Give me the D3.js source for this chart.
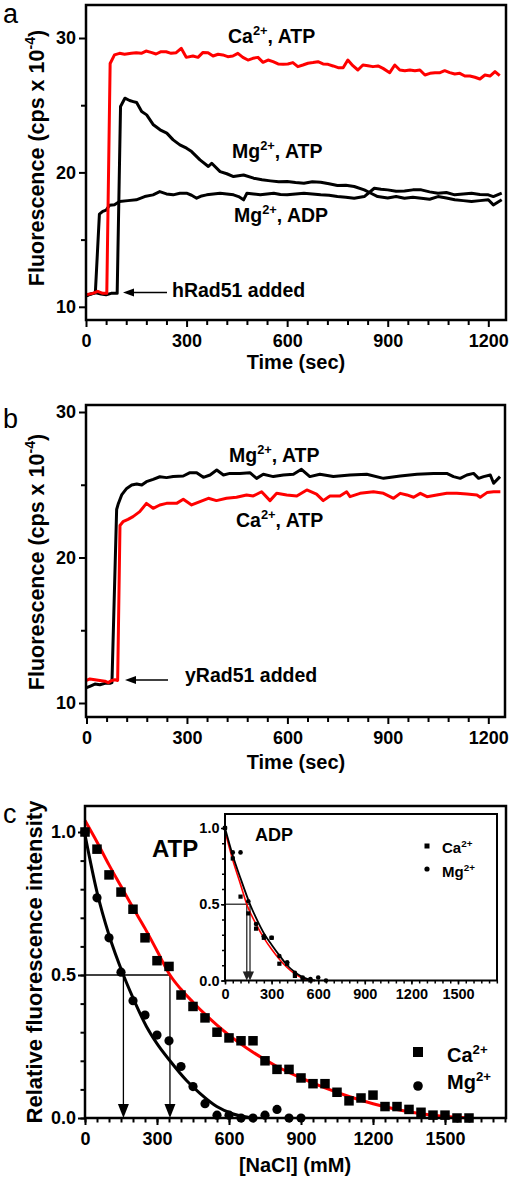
<!DOCTYPE html>
<html><head><meta charset="utf-8">
<script src="https://cdn.jsdelivr.net/npm/d3@7"></script>
<style>body{margin:0;background:#fff}svg{display:block}</style>
</head><body>
<svg id="fig" width="517" height="1181"></svg>
<script>
// ---------------- DATA ----------------
// Panel a (hRad51): [time sec, fluorescence cps x 10^-4]
const aCaATP = [[0,10.9],[20,11.0],[35,11.15],[50,11.0],[62,11.0],[72,28.1],[85,28.74],[100,28.86],[115,28.79],[135,28.86],[150,28.91],[165,28.86],[179,29.03],[194,28.93],[209,28.81],[224,28.98],[239,28.98],[254,28.86],[269,28.91],[284,29.23],[299,28.56],[319,28.66],[334,28.56],[349,28.93],[364,28.91],[379,28.66],[394,28.79],[408,28.74],[423,28.61],[438,28.66],[453,28.86],[468,28.56],[483,28.36],[498,28.49],[513,28.56],[528,28.19],[543,28.36],[558,28.24],[573,28.07],[588,28.04],[602,28.07],[617,28.17],[632,27.87],[647,27.99],[662,28.12],[677,28.17],[692,28.24],[707,28.07],[722,28.04],[737,27.92],[752,27.79],[767,27.79],[781,28.36],[796,27.94],[811,27.62],[826,27.99],[841,27.94],[856,27.87],[871,27.92],[886,27.74],[906,27.42],[921,27.99],[936,27.62],[951,27.57],[966,27.62],[981,27.57],[996,27.62],[1011,27.25],[1026,27.37],[1041,27.42],[1056,27.42],[1070,27.57],[1085,27.42],[1100,27.32],[1115,27.37],[1130,27.17],[1145,27.17],[1160,27.08],[1175,26.95],[1190,27.25],[1205,27.17],[1220,27.5],[1234,27.2]];
const aMgATP = [[0,10.85],[15,10.95],[30,11.05],[45,10.95],[60,10.9],[75,11.0],[93,11.0],[103,24.9],[116,25.52],[130,25.35],[141,25.27],[151,25.2],[166,24.53],[181,24.28],[201,23.54],[221,23.17],[241,22.92],[260,22.42],[280,22.05],[300,21.8],[315,21.55],[340,20.93],[365,20.44],[375,20.68],[400,20.06],[420,19.9],[440,19.69],[470,19.81],[500,19.57],[525,19.45],[550,19.37],[575,19.3],[600,19.32],[625,19.25],[650,19.2],[675,19.3],[700,19.27],[725,19.15],[750,19.02],[775,19.05],[800,18.95],[830,18.7],[850,18.45],[870,18.2],[900,18.1],[925,18.2],[950,18.08],[975,18.15],[1000,18.08],[1025,18.0],[1050,18.2],[1075,18.1],[1100,17.96],[1125,17.9],[1150,17.83],[1175,17.9],[1200,17.96],[1215,17.58],[1240,17.96]];
const aMgADP = [[0,10.8],[10,10.9],[20,11.0],[28,11.1],[40,16.9],[50,17.1],[60,17.2],[70,17.55],[85,17.6],[100,17.83],[125,17.9],[150,17.96],[175,18.2],[200,18.33],[220,18.57],[240,18.4],[260,18.33],[280,18.45],[300,18.45],[315,18.3],[330,18.08],[345,18.25],[360,18.33],[380,18.4],[400,18.45],[420,18.4],[440,18.33],[455,18.2],[470,17.96],[480,18.45],[500,18.4],[520,18.33],[540,18.4],[560,18.45],[580,18.35],[600,18.33],[625,18.4],[650,18.45],[675,18.4],[700,18.33],[725,18.3],[750,18.2],[775,18.15],[800,18.08],[830,18.2],[860,18.82],[880,18.75],[900,18.7],[925,18.6],[950,18.62],[975,18.7],[1000,18.7],[1025,18.55],[1050,18.45],[1075,18.5],[1100,18.33],[1125,18.4],[1150,18.45],[1175,18.35],[1200,18.33],[1215,18.2],[1240,18.45]];

// Panel b (yRad51)
const bMgATP = [[0,11.05],[10,11.15],[25,11.3],[40,11.25],[55,11.35],[70,11.35],[76,11.4],[90,23.3],[95,23.7],[105,24.3],[120,24.75],[135,24.98],[150,25.05],[165,24.98],[179,25.21],[199,25.37],[219,25.55],[239,25.49],[259,25.56],[289,25.6],[309,25.83],[329,25.83],[349,25.51],[369,25.67],[389,26.01],[409,25.67],[428,25.78],[458,25.78],[488,25.83],[508,25.44],[528,25.72],[558,25.56],[588,25.67],[618,25.72],[642,26.06],[667,25.56],[697,25.72],[737,25.56],[787,25.67],[837,25.72],[887,25.44],[937,25.6],[987,25.72],[1036,25.78],[1076,25.78],[1096,25.56],[1116,25.44],[1136,25.67],[1156,25.78],[1171,25.44],[1186,25.56],[1206,25.67],[1216,25.1],[1235,25.56]];
const bCaATP = [[0,11.55],[10,11.65],[25,11.6],[40,11.55],[55,11.5],[65,11.4],[75,11.55],[85,11.6],[93,11.55],[100,22.2],[109,22.46],[124,22.62],[139,22.81],[159,23.15],[179,23.72],[199,23.38],[219,23.61],[239,23.72],[269,23.72],[289,24.0],[314,23.61],[339,23.84],[364,24.07],[388,23.91],[418,24.07],[448,24.14],[478,24.3],[498,24.23],[523,24.52],[548,23.91],[568,24.41],[598,24.3],[628,24.23],[658,24.64],[687,24.36],[707,23.91],[727,24.23],[757,24.23],[777,24.52],[787,24.18],[817,24.41],[857,24.52],[887,24.41],[917,24.07],[937,24.41],[957,24.3],[977,24.14],[997,24.41],[1017,24.18],[1046,24.3],[1076,24.41],[1106,24.41],[1136,24.36],[1166,24.3],[1176,24.14],[1196,24.46],[1216,24.52],[1236,24.52]];

// Panel c, ATP: [NaCl mM], relative fluorescence
const cCaNaCl = [0,50,100,150,200,250,300,350,400,450,500,550,600,650,700,750,800,850,900,950,1000,1050,1100,1150,1200,1250,1300,1350,1400,1450,1500,1550,1600];
const cCaRel  = [1.0,0.94,0.85,0.79,0.73,0.63,0.55,0.53,0.43,0.39,0.35,0.30,0.28,0.27,0.27,0.20,0.17,0.17,0.14,0.12,0.12,0.09,0.06,0.07,0.08,0.04,0.04,0.03,0.02,0.01,0.01,0.0,0.0];
const cMgNaCl = [0,50,100,150,200,250,300,350,400,450,500,550,600,650,700,750,800,850,900];
const cMgRel  = [1.0,0.77,0.63,0.51,0.41,0.36,0.29,0.27,0.18,0.11,0.05,0.01,0.01,0.0,0.0,0.01,0.03,0.0,0.0];
const cCaFit = [[0,1.04],[50,0.965],[100,0.885],[150,0.81],[200,0.735],[250,0.663],[300,0.585],[354,0.5],[400,0.45],[450,0.405],[500,0.363],[550,0.325],[600,0.29],[700,0.23],[800,0.18],[900,0.14],[1000,0.105],[1100,0.075],[1200,0.05],[1300,0.03],[1400,0.015],[1500,0.005],[1600,0.0]];
const cMgFit = [[0,0.99],[50,0.79],[100,0.64],[160,0.5],[200,0.42],[256,0.32],[300,0.26],[354,0.2],[424,0.13],[479,0.086],[549,0.04],[618,0.014],[680,0.003],[715,0.0]];
const cHalf = [160,354];

// Inset, ADP
const dCaNaCl = [0,50,100,150,200,250,300,350,400,450,500,550];
const dCaRel  = [1.0,0.80,0.55,0.44,0.34,0.28,0.28,0.11,0.11,0.03,0.01,0.0];
const dMgNaCl = [0,50,100,150,200,250,300,350,400,450,500,550,600,650];
const dMgRel  = [1.0,0.84,0.84,0.52,0.37,0.29,0.28,0.16,0.12,0.05,0.02,0.01,0.02,0.0];
const dCaFit = [[0,0.98],[50,0.79],[100,0.63],[140,0.5],[200,0.37],[250,0.28],[300,0.205],[350,0.14],[400,0.085],[450,0.043],[500,0.015],[550,0.002],[570,0.0]];
const dMgFit = [[0,1.0],[50,0.82],[100,0.67],[161,0.5],[200,0.41],[250,0.31],[300,0.235],[350,0.165],[400,0.1],[450,0.055],[500,0.022],[550,0.004],[580,0.0]];
const dHalf = [140,161];

// tick labels
const timeTicks = [0,300,600,900,1200];
const fluoTicks = [10,20,30];
const naclTicks = [0,300,600,900,1200,1500];
const relTicks = [0,0.5,1.0];

// ---------------- DRAW ----------------
const FONT = '"Liberation Sans", Arial, Helvetica, sans-serif';
const RED = '#ff0000';
const svg = d3.select('#fig').attr('font-family', FONT);

function supText(g, x, y, parts, size, anchor) {
  const t = g.append('text').attr('x', x).attr('y', y).attr('font-size', size)
    .attr('font-weight', 'bold').attr('fill', '#000').attr('text-anchor', anchor || 'start');
  let up = false;
  parts.forEach(([s, sup]) => {
    const ts = t.append('tspan').text(s);
    if (sup && !up) { ts.attr('dy', -size * 0.4).attr('font-size', size * 0.66); up = true; }
    else if (sup) { ts.attr('font-size', size * 0.66); }
    else if (!sup && up) { ts.attr('dy', size * 0.4); up = false; }
  });
  return t;
}

function axes(g, xs, ys, box, o) {
  const mk = (axis, tr) => {
    const a = g.append('g').attr('transform', tr).call(axis);
    a.select('.domain').remove();
    a.selectAll('line').attr('stroke', '#000').attr('stroke-width', o.sw);
    a.attr('font-family', FONT).attr('font-size', o.fs).attr('font-weight', 'bold');
    a.selectAll('text').attr('fill', '#000');
    return a;
  };
  mk(d3.axisBottom(xs).tickValues(o.xMajor).tickSize(o.tl).tickPadding(o.xp).tickFormat(o.xf), `translate(0,${box.b})`);
  mk(d3.axisBottom(xs).tickValues(o.xMinor).tickSize(o.tm).tickFormat(''), `translate(0,${box.b})`);
  mk(d3.axisLeft(ys).tickValues(o.yMajor).tickSize(o.tl).tickPadding(o.yp).tickFormat(o.yf), `translate(${box.l},0)`);
  mk(d3.axisLeft(ys).tickValues(o.yMinor).tickSize(o.tm).tickFormat(''), `translate(${box.l},0)`);
  g.append('rect').attr('x', box.l).attr('y', box.t).attr('width', box.r - box.l)
    .attr('height', box.b - box.t).attr('fill', 'none').attr('stroke', '#000').attr('stroke-width', o.fw);
}

function yTitle(g, cx, cy, parts, size) {
  const gg = g.append('g').attr('transform', `translate(${cx},${cy}) rotate(-90)`);
  supText(gg, 0, 0, parts, size, 'middle');
}

function arrowLeft(g, x1, x2, y) {
  g.append('line').attr('x1', x1).attr('x2', x2 + 8).attr('y1', y).attr('y2', y)
    .attr('stroke', '#000').attr('stroke-width', 1.6);
  g.append('path').attr('d', `M${x2},${y} L${x2 + 11},${y - 4} L${x2 + 11},${y + 4} Z`).attr('fill', '#000');
}

function panelLabel(x, y, s) {
  svg.append('text').attr('x', x).attr('y', y).attr('font-size', 27).attr('font-family', FONT).text(s);
}

const timeMinor = d3.range(0, 1250, 60).filter(d => d % 300 !== 0);

// ---- Panel a ----
{
  const box = {l: 86, r: 506, t: 5, b: 320};
  const x = d3.scaleLinear().domain([0, 1200]).range([86, 488.3]);
  const y = d3.scaleLinear().domain([10, 30]).range([306.8, 38]);
  const g = svg.append('g');
  const line = d3.line().x(d => x(d[0])).y(d => y(d[1]));
  [[aMgADP, '#000'], [aMgATP, '#000'], [aCaATP, RED]].forEach(([d, c]) =>
    g.append('path').datum(d).attr('d', line).attr('fill', 'none').attr('stroke', c)
      .attr('stroke-width', 3).attr('stroke-linejoin', 'round'));
  axes(g, x, y, box, {xMajor: timeTicks, xMinor: timeMinor, yMajor: fluoTicks, yMinor: [15, 25],
    tl: 7, tm: 5, xp: 7, yp: 3, fs: 18, sw: 2, fw: 2.5, xf: d3.format('d'), yf: d3.format('d')});
  supText(g, 228, 43, [['Ca', false], ['2+', true], [', ATP', false]], 19.5);
  supText(g, 232, 158, [['Mg', false], ['2+', true], [', ATP', false]], 19.5);
  supText(g, 234, 222, [['Mg', false], ['2+', true], [', ADP', false]], 19.5);
  supText(g, 172, 297, [['hRad51 added', false]], 19.5);
  arrowLeft(g, 167, 123, 292.5);
  g.append('text').attr('x', 296).attr('y', 369).attr('text-anchor', 'middle')
    .attr('font-size', 20).attr('font-weight', 'bold').text('Time (sec)');
  yTitle(g, 44, 158, [['Fluorescence (cps x 10', false], ['-4', true], [')', false]], 21.5);
  panelLabel(3, 23, 'a');
}

// ---- Panel b ----
{
  const box = {l: 86, r: 505, t: 405, b: 717};
  const x = d3.scaleLinear().domain([0, 1200]).range([86.5, 488.3]);
  const y = d3.scaleLinear().domain([10, 30]).range([703, 412]);
  const g = svg.append('g');
  const line = d3.line().x(d => x(d[0])).y(d => y(d[1]));
  [[bMgATP, '#000'], [bCaATP, RED]].forEach(([d, c]) =>
    g.append('path').datum(d).attr('d', line).attr('fill', 'none').attr('stroke', c)
      .attr('stroke-width', 3).attr('stroke-linejoin', 'round'));
  axes(g, x, y, box, {xMajor: timeTicks, xMinor: timeMinor, yMajor: fluoTicks, yMinor: [15, 25],
    tl: 7, tm: 5, xp: 7, yp: 3, fs: 18, sw: 2, fw: 2.5, xf: d3.format('d'), yf: d3.format('d')});
  supText(g, 229, 462, [['Mg', false], ['2+', true], [', ATP', false]], 19.5);
  supText(g, 236, 527, [['Ca', false], ['2+', true], [', ATP', false]], 19.5);
  supText(g, 185, 682, [['yRad51 added', false]], 19.5);
  arrowLeft(g, 168, 125, 680);
  g.append('text').attr('x', 296).attr('y', 769).attr('text-anchor', 'middle')
    .attr('font-size', 20).attr('font-weight', 'bold').text('Time (sec)');
  yTitle(g, 44, 562, [['Fluorescence (cps x 10', false], ['-4', true], [')', false]], 21.5);
  panelLabel(3, 428, 'b');
}

// ---- Panel c ----
{
  const box = {l: 85, r: 506, t: 806, b: 1118};
  const x = d3.scaleLinear().domain([0, 1500]).range([85, 445]);
  const y = d3.scaleLinear().domain([0, 1]).range([1118, 832]);
  const g = svg.append('g');
  const fit = d3.line().x(d => x(d[0])).y(d => y(d[1])).curve(d3.curveMonotoneX);
  g.append('line').attr('x1', x(0)).attr('x2', x(cHalf[1])).attr('y1', y(0.5)).attr('y2', y(0.5))
    .attr('stroke', '#000').attr('stroke-width', 1.3);
  cHalf.forEach(h => {
    g.append('line').attr('x1', x(h)).attr('x2', x(h)).attr('y1', y(0.5)).attr('y2', y(0) - 10)
      .attr('stroke', '#000').attr('stroke-width', 1.3);
    g.append('path').attr('d', `M${x(h)},${y(0)} L${x(h) - 5.5},${y(0) - 14} L${x(h) + 5.5},${y(0) - 14} Z`).attr('fill', '#000');
  });
  g.append('path').datum(cCaFit).attr('d', fit).attr('fill', 'none').attr('stroke', RED).attr('stroke-width', 3);
  g.append('path').datum(cMgFit).attr('d', fit).attr('fill', 'none').attr('stroke', '#000').attr('stroke-width', 3);
  const sq = 9.5;
  g.selectAll('rect.ca').data(cCaNaCl).join('rect').attr('class', 'ca')
    .attr('x', (d, i) => x(d) - sq / 2).attr('y', (d, i) => y(cCaRel[i]) - sq / 2)
    .attr('width', sq).attr('height', sq).attr('fill', '#000');
  g.selectAll('circle.mg').data(cMgNaCl).join('circle').attr('class', 'mg')
    .attr('cx', d => x(d)).attr('cy', (d, i) => y(cMgRel[i])).attr('r', 4.6).attr('fill', '#000');
  axes(g, x, y, box, {xMajor: naclTicks, xMinor: d3.range(0, 1751, 50), yMajor: relTicks,
    yMinor: d3.range(0, 1.05, 0.1), tl: 7, tm: 4.5, xp: 7, yp: 2, fs: 18, sw: 2, fw: 2.5,
    xf: d3.format('d'), yf: d3.format('.1f')});
  g.append('text').attr('x', 152).attr('y', 857).attr('font-size', 24).attr('font-weight', 'bold').text('ATP');
  g.append('rect').attr('x', 418 - 5).attr('y', 1052 - 5).attr('width', 10).attr('height', 10).attr('fill', '#000');
  g.append('circle').attr('cx', 418).attr('cy', 1086).attr('r', 4.8).attr('fill', '#000');
  supText(g, 447, 1062, [['Ca', false], ['2+', true]], 20);
  supText(g, 447, 1089, [['Mg', false], ['2+', true]], 20);
  g.append('text').attr('x', 295).attr('y', 1172).attr('text-anchor', 'middle')
    .attr('font-size', 20).attr('font-weight', 'bold').text('[NaCl] (mM)');
  yTitle(g, 42, 962, [['Relative fluorescence intensity', false]], 22);
  panelLabel(3, 823, 'c');

  // ---- inset ----
  const ib = {l: 225, r: 497, t: 814, b: 980.5};
  const xi = d3.scaleLinear().domain([0, 1500]).range([225, 458]);
  const yi = d3.scaleLinear().domain([0, 1]).range([980.5, 828]);
  const gi = svg.append('g');
  gi.append('rect').attr('x', ib.l).attr('y', ib.t).attr('width', ib.r - ib.l).attr('height', ib.b - ib.t).attr('fill', '#fff');
  const fiti = d3.line().x(d => xi(d[0])).y(d => yi(d[1])).curve(d3.curveMonotoneX);
  gi.append('line').attr('x1', xi(0)).attr('x2', xi(dHalf[1])).attr('y1', yi(0.5)).attr('y2', yi(0.5))
    .attr('stroke', '#444').attr('stroke-width', 1.5);
  dHalf.forEach(h => {
    gi.append('line').attr('x1', xi(h)).attr('x2', xi(h)).attr('y1', yi(0.5)).attr('y2', yi(0) - 6)
      .attr('stroke', '#444').attr('stroke-width', 1.5);
    gi.append('path').attr('d', `M${xi(h)},${yi(0)} L${xi(h) - 4},${yi(0) - 9} L${xi(h) + 4},${yi(0) - 9} Z`).attr('fill', '#222');
  });
  gi.append('path').datum(dCaFit).attr('d', fiti).attr('fill', 'none').attr('stroke', RED).attr('stroke-width', 1.6);
  gi.append('path').datum(dMgFit).attr('d', fiti).attr('fill', 'none').attr('stroke', '#000').attr('stroke-width', 1.8);
  const sqi = 4.2;
  gi.selectAll('rect.ca').data(dCaNaCl).join('rect').attr('class', 'ca')
    .attr('x', d => xi(d) - sqi / 2).attr('y', (d, i) => yi(dCaRel[i]) - sqi / 2)
    .attr('width', sqi).attr('height', sqi).attr('fill', '#000');
  gi.selectAll('circle.mg').data(dMgNaCl).join('circle').attr('class', 'mg')
    .attr('cx', d => xi(d)).attr('cy', (d, i) => yi(dMgRel[i])).attr('r', 2.3).attr('fill', '#000');
  axes(gi, xi, yi, ib, {xMajor: naclTicks, xMinor: d3.range(0, 1751, 50), yMajor: relTicks,
    yMinor: d3.range(0, 1.05, 0.1), tl: 4, tm: 3, xp: 4, yp: 1.5, fs: 14.5, sw: 1.5, fw: 2,
    xf: d3.format('d'), yf: d3.format('.1f')});
  gi.append('text').attr('x', 255).attr('y', 841).attr('font-size', 18).attr('font-weight', 'bold').text('ADP');
  gi.append('rect').attr('x', 427 - 2.5).attr('y', 846 - 2.5).attr('width', 5).attr('height', 5).attr('fill', '#000');
  gi.append('circle').attr('cx', 427).attr('cy', 869).attr('r', 2.6).attr('fill', '#000');
  supText(gi, 442, 853, [['Ca', false], ['2+', true]], 15);
  supText(gi, 442, 877, [['Mg', false], ['2+', true]], 15);
}
</script>
</body></html>
